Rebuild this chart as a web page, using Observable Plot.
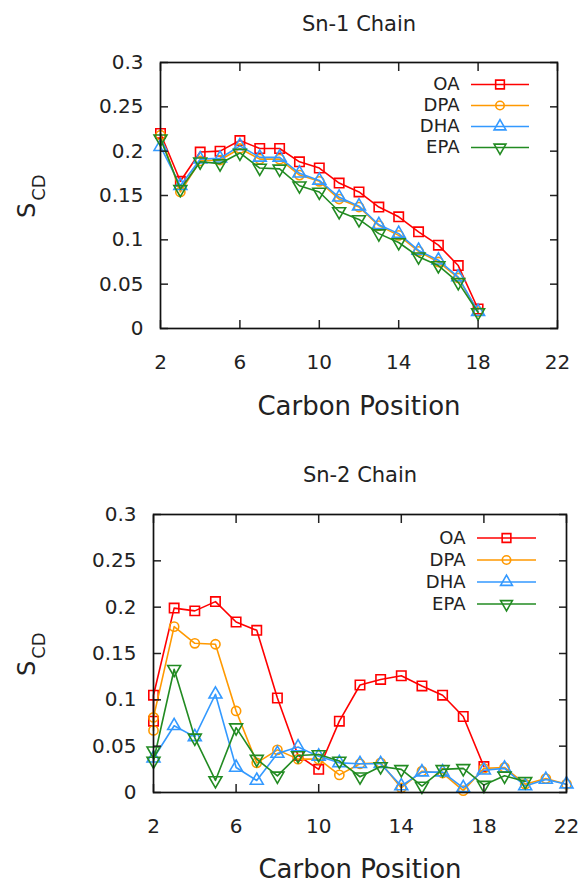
<!DOCTYPE html>
<html><head><meta charset="utf-8">
<script src="https://cdn.jsdelivr.net/npm/d3@7"></script>
<script src="https://cdn.jsdelivr.net/npm/@observablehq/plot@0.6"></script>
<style>
body{margin:0;background:#fff;}
#chart svg{display:block;}
</style>
</head><body><div id="chart"></div>
<script>
// ---- series definitions ----
const seriesNames = ["OA", "DPA", "DHA", "EPA"];
const seriesColors = ["#ff0000", "#ff9900", "#3399ff", "#228b22"];
const seriesSymbols = ["square", "circle", "triangle", "triangle"];
const seriesRotate = [0, 0, 0, 180];
const xTicks = [2, 6, 10, 14, 18, 22];
const yTicks = [0, 0.05, 0.1, 0.15, 0.2, 0.25, 0.3];
const xLabel = "Carbon Position";
const titles = ["Sn-1 Chain", "Sn-2 Chain"];

// ---- Sn-1 chain ----
const sn1Carbons = [2, 3, 4, 5, 6, 7, 8, 9, 10, 11, 12, 13, 14, 15, 16, 17, 18];
const sn1OA  = [0.220, 0.166, 0.199, 0.200, 0.212, 0.203, 0.203, 0.188, 0.181, 0.164, 0.154, 0.137, 0.126, 0.109, 0.094, 0.071, 0.022];
const sn1DPA = [0.218, 0.154, 0.189, 0.190, 0.203, 0.191, 0.191, 0.173, 0.166, 0.146, 0.137, 0.116, 0.105, 0.087, 0.075, 0.057, 0.019];
const sn1DHA = [0.205, 0.161, 0.191, 0.192, 0.206, 0.193, 0.193, 0.175, 0.167, 0.148, 0.138, 0.117, 0.107, 0.088, 0.077, 0.058, 0.019];
const sn1EPA = [0.214, 0.157, 0.188, 0.186, 0.198, 0.181, 0.180, 0.161, 0.154, 0.132, 0.123, 0.107, 0.097, 0.081, 0.071, 0.052, 0.018];

// ---- Sn-2 chain (C2 has two values for some lipids) ----
const sn2CarbonsOA  = [2, 2, 3, 4, 5, 6, 7, 8, 9, 10, 11, 12, 13, 14, 15, 16, 17, 18];
const sn2OA         = [0.077, 0.105, 0.199, 0.196, 0.206, 0.184, 0.175, 0.102, 0.040, 0.025, 0.077, 0.116, 0.122, 0.126, 0.115, 0.105, 0.082, 0.028];
const sn2CarbonsDPA = [2, 2, 3, 4, 5, 6, 7, 8, 9, 10, 11, 12, 13, 14, 15, 16, 17, 18, 19, 20, 21, 22];
const sn2DPA        = [0.067, 0.081, 0.179, 0.161, 0.160, 0.088, 0.032, 0.046, 0.036, 0.036, 0.019, 0.031, 0.032, 0.005, 0.023, 0.021, 0.002, 0.026, 0.027, 0.009, 0.015, 0.009];
const sn2CarbonsDHA = [2, 3, 4, 5, 6, 7, 8, 9, 10, 11, 12, 13, 14, 15, 16, 17, 18, 19, 20, 21, 22];
const sn2DHA        = [0.037, 0.072, 0.060, 0.106, 0.027, 0.013, 0.042, 0.049, 0.039, 0.032, 0.031, 0.031, 0.007, 0.022, 0.022, 0.005, 0.024, 0.026, 0.007, 0.014, 0.009];
const sn2CarbonsEPA = [2, 2, 3, 4, 5, 6, 7, 8, 9, 10, 11, 12, 13, 14, 15, 16, 17, 18, 19, 20];
const sn2EPA        = [0.045, 0.034, 0.133, 0.059, 0.013, 0.070, 0.036, 0.018, 0.040, 0.041, 0.034, 0.017, 0.028, 0.025, 0.007, 0.025, 0.026, 0.008, 0.018, 0.012];

const FONT = "DejaVu Sans";
const markerR = [5.3, 4.6, 4.8, 4.8];
const legendR = [4.9, 4.2, 4.4, 4.4];
const fmt = d => String(+d.toFixed(2));

function legendLineSymbol(half) {
  return {draw(ctx) { ctx.moveTo(-half, 0); ctx.lineTo(half, 0); }};
}

function panel(cfg) {
  const {series, title, height, marginTop, marginRight, marginBottom, marginLeft, leg} = cfg;
  const marks = [];
  series.forEach((s, i) => {
    const data = s.x.map((x, j) => ({x, y: s.y[j]}));
    marks.push(Plot.line(data, {x: "x", y: "y", stroke: seriesColors[i], strokeWidth: 1.6}));
    marks.push(Plot.dot(data, {x: "x", y: "y", symbol: seriesSymbols[i], rotate: seriesRotate[i], r: markerR[i],
      stroke: seriesColors[i], fill: "none", strokeWidth: 1.6}));
  });
  // legend
  seriesNames.forEach((name, i) => {
    const dy = leg.dy0 + i * leg.step;
    marks.push(Plot.text([name], {frameAnchor: "top-right", text: d => d, textAnchor: "end", lineAnchor: "middle",
      dx: leg.textDx, dy, fontSize: 18, fill: "#222"}));
    marks.push(Plot.dot([name], {frameAnchor: "top-right", dx: leg.lineDx, dy, symbol: legendLineSymbol(leg.half),
      stroke: seriesColors[i], strokeWidth: 1.6, r: 5}));
    marks.push(Plot.dot([name], {frameAnchor: "top-right", dx: leg.lineDx, dy, symbol: seriesSymbols[i], rotate: seriesRotate[i],
      r: legendR[i], stroke: seriesColors[i], fill: "none", strokeWidth: 1.6}));
  });
  // axes (gnuplot-like inward ticks, mirrored)
  marks.push(Plot.axisX(xTicks, {anchor: "bottom", tickSize: -8, tickPadding: 34, label: null, fontSize: 20, strokeWidth: 1.5, fill: "#222"}));
  marks.push(Plot.axisX(xTicks, {anchor: "top", tickSize: -8, tickFormat: () => "", label: null, strokeWidth: 1.5}));
  marks.push(Plot.axisY(yTicks, {anchor: "left", tickSize: -8, tickPadding: 25, tickFormat: fmt, label: null, fontSize: 20, strokeWidth: 1.5, fill: "#222"}));
  marks.push(Plot.axisY(yTicks, {anchor: "right", tickSize: -8, tickFormat: () => "", label: null, strokeWidth: 1.5}));
  marks.push(Plot.frame({stroke: "#111", strokeWidth: 1.7}));
  // titles and axis labels
  marks.push(Plot.text([title], {frameAnchor: "top", text: d => d, lineAnchor: "middle", dy: cfg.titleDy, fontSize: 21, fill: "#222"}));
  marks.push(Plot.text([xLabel], {frameAnchor: "bottom", text: d => d, lineAnchor: "middle", dy: cfg.xLabelDy, fontSize: 26, fill: "#222"}));
  marks.push(Plot.text(["S"], {frameAnchor: "left", text: d => d, rotate: -90, lineAnchor: "bottom", textAnchor: "middle",
    dx: 34 - marginLeft, dy: 15, fontSize: 24, fill: "#222"}));
  marks.push(Plot.text(["CD"], {frameAnchor: "left", text: d => d, rotate: -90, lineAnchor: "bottom", textAnchor: "middle",
    dx: 44 - marginLeft, dy: -8, fontSize: 18, fill: "#222"}));

  return Plot.plot({
    width: 582, height, marginTop, marginRight, marginBottom, marginLeft,
    style: {fontFamily: FONT, fontSize: "20px", background: "#fff", color: "#222"},
    x: {domain: [2, 22]},
    y: {domain: [0, 0.3]},
    marks
  });
}

const sn1Chart = panel({
  title: titles[0], height: 440, marginTop: 62, marginRight: 25, marginBottom: 112, marginLeft: 160,
  titleDy: -38, xLabelDy: 78,
  leg: {dy0: 22, step: 21, textDx: -98, lineDx: -57.5, half: 29},
  series: [
    {x: sn1Carbons, y: sn1OA}, {x: sn1Carbons, y: sn1DPA}, {x: sn1Carbons, y: sn1DHA}, {x: sn1Carbons, y: sn1EPA}
  ]
});
const sn2Chart = panel({
  title: titles[1], height: 444, marginTop: 74, marginRight: 16, marginBottom: 92, marginLeft: 153,
  titleDy: -39, xLabelDy: 77,
  leg: {dy0: 23.5, step: 22, textDx: -101, lineDx: -60, half: 29.5},
  series: [
    {x: sn2CarbonsOA, y: sn2OA}, {x: sn2CarbonsDPA, y: sn2DPA}, {x: sn2CarbonsDHA, y: sn2DHA}, {x: sn2CarbonsEPA, y: sn2EPA}
  ]
});
document.getElementById("chart").append(sn1Chart, sn2Chart);
</script>
</body></html>
